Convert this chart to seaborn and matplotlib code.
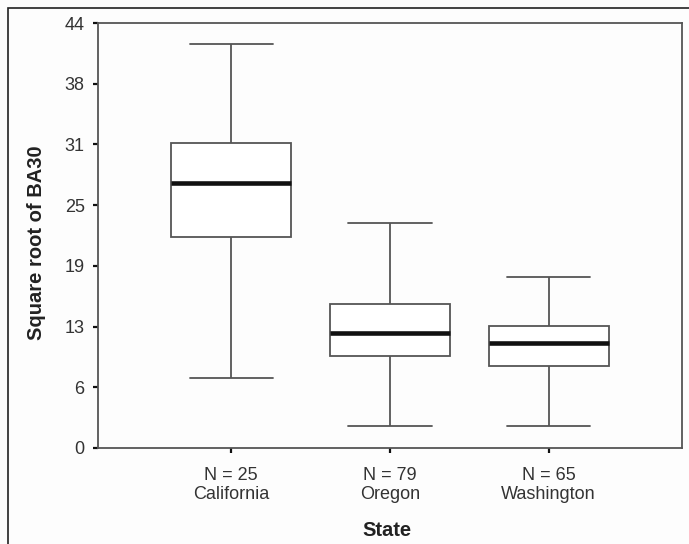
import numpy as np
import pandas as pd
import matplotlib
matplotlib.use("Agg")
import matplotlib.pyplot as plt
import seaborn as sns
from matplotlib.patches import Rectangle

# ---- data ----
states = ["California", "Oregon", "Washington"]
counts = [25, 79, 65]
mins = [7.27, 2.24, 2.24]
q1s = [21.8, 9.5, 8.45]
medians = [27.4, 11.9, 10.83]
q3s = [31.6, 14.9, 12.65]
maxs = [41.85, 23.3, 17.7]
ytick_labels = ["0", "6", "13", "19", "25", "31", "38", "44"]
y_top = 44

rows = []
for s, a, b, c, d, e in zip(states, mins, q1s, medians, q3s, maxs):
    for v in (a, b, c, d, e):
        rows.append({"State": s, "value": v})
df = pd.DataFrame(rows)

sns.set_style("white")
plt.rcParams["font.family"] = ["Liberation Sans", "DejaVu Sans"]

fig = plt.figure(figsize=(6.89, 5.44), dpi=100, facecolor="#fdfdfd")
ax = fig.add_axes([0.1422, 0.1765, 0.9898 - 0.1422, 0.9577 - 0.1765])
ax.set_facecolor("#fdfdfd")

line_col = "#555555"
sns.boxplot(
    data=df, x="State", y="value", order=states, ax=ax,
    whis=(0, 100), width=0.755, color="white", linecolor=line_col,
    linewidth=1.3, showfliers=False, capwidths=0.525,
    medianprops=dict(color="#111111", linewidth=3.3, solid_capstyle="butt"),
    boxprops=dict(facecolor="white", edgecolor=line_col, linewidth=1.3),
    whiskerprops=dict(color=line_col, linewidth=1.3),
    capprops=dict(color=line_col, linewidth=1.3),
)

ax.set_xlim(-0.84, 2.84)
ax.set_ylim(0, y_top)
ax.set_yticks([i * y_top / (len(ytick_labels) - 1) for i in range(len(ytick_labels))])
ax.set_yticklabels(ytick_labels)
ax.set_xticks(range(len(states)))
ax.set_xticklabels([f"N = {n}\n{s}" for n, s in zip(counts, states)], linespacing=1.17)

for sp in ax.spines.values():
    sp.set_visible(True)
    sp.set_color("#555555")
    sp.set_linewidth(1.3)

ax.tick_params(axis="both", which="both", direction="out", length=3.6, width=1.6,
               color="#111111", labelsize=13, labelcolor="#333333")
ax.tick_params(axis="x", pad=10)
ax.tick_params(axis="y", pad=6)
ax.tick_params(left=True, bottom=True, top=False, right=False)

ax.set_ylabel("Square root of BA30", fontsize=14.5, fontweight="bold", color="#222222")
ax.set_xlabel("State", fontsize=14.5, fontweight="bold", color="#222222")
ax.yaxis.set_label_coords(-0.1045, 0.482)
ax.yaxis.label.set_va("center")
ax.xaxis.set_label_coords(0.495, -0.193)
ax.xaxis.label.set_va("center")

# figure frame
fig.patches.append(Rectangle((8 / 689, -0.05), 1.2, 1 - 8 / 544 + 0.05,
                             transform=fig.transFigure, fill=False,
                             edgecolor="#222222", linewidth=1.2))

fig.savefig("out.png", dpi=100, facecolor=fig.get_facecolor())
